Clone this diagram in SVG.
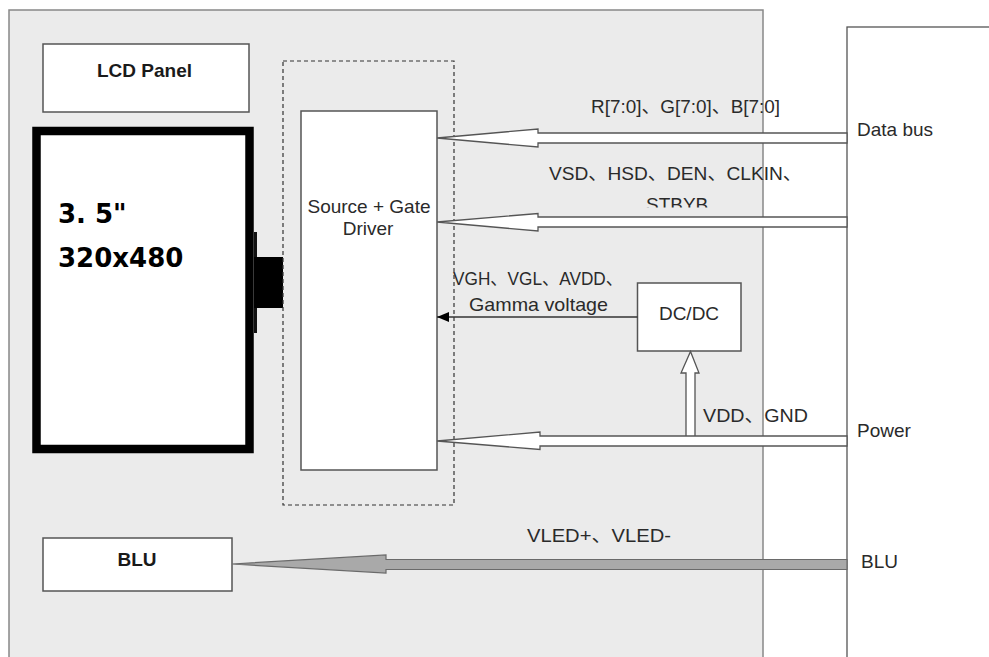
<svg xmlns="http://www.w3.org/2000/svg" width="989" height="657" viewBox="0 0 989 657">
<defs>
<style>
.t{font-family:"Liberation Sans","Noto Sans CJK SC",sans-serif;font-size:19px;fill:#2a2a2a}
.b{font-weight:bold;fill:#1a1a1a}
.big{font-family:"DejaVu Sans",sans-serif;font-weight:bold;font-size:26px;fill:#000}
.box{fill:#fff;stroke:#555;stroke-width:1.5}
.hollow{fill:#fff;stroke:#555;stroke-width:1.3;stroke-linejoin:miter}
</style>
<marker id="tri" markerWidth="12" markerHeight="10" refX="12" refY="5" orient="auto" markerUnits="userSpaceOnUse">
<path d="M0,0 L12,5 L0,10 Z" fill="#000"/>
</marker>
<clipPath id="stbclip"><rect x="600" y="190" width="200" height="17.5"/></clipPath>
</defs>
<rect width="989" height="657" fill="#fff"/>
<g id="main-board">
<rect x="9" y="10" width="754" height="660" fill="#ebebeb" stroke="#888" stroke-width="1.5"/>
</g>
<g id="host">
<rect x="847" y="27" width="160" height="650" fill="#fff" stroke="#555" stroke-width="1.3"/>
</g>
<g id="lcd-panel-label">
<rect class="box" x="43" y="44" width="206" height="68"/>
<text class="t b" x="97" y="77">LCD Panel</text>
</g>
<g id="lcd-glass">
<rect x="36.5" y="131" width="213" height="318" fill="#fff" stroke="#000" stroke-width="8.5"/>
<rect x="254" y="232" width="3" height="101" fill="#111"/>
<rect x="254" y="257" width="29" height="51" fill="#000"/>
<text class="big" x="58" y="223">3. 5"</text>
<text class="big" x="58" y="267">320x480</text>
</g>
<g id="driver-area">
<rect x="283" y="61" width="171" height="444" fill="none" stroke="#333" stroke-width="1.2" stroke-dasharray="4,3"/>
</g>
<g id="driver">
<rect class="box" x="301" y="111" width="136" height="359"/>
<text class="t" x="369" y="213" text-anchor="middle">Source + Gate</text>
<text class="t" x="368" y="235" text-anchor="middle">Driver</text>
</g>
<g id="dcdc">
<rect class="box" x="637.5" y="283" width="103.5" height="68"/>
<text class="t" x="689" y="320" text-anchor="middle" font-size="19.5">DC/DC</text>
</g>
<g id="blu">
<rect class="box" x="43" y="538" width="189" height="53"/>
<text class="t b" x="137" y="566" text-anchor="middle">BLU</text>
</g>
<g id="connectors">
<polygon class="hollow" points="437,138 538,129 538,133 847,133 847,143 538,143 538,147"/>
<polygon class="hollow" points="437,222 538,213.5 538,217 847,217 847,227 538,227 538,231"/>
<polygon class="hollow" points="686,438 686,373 681,373 690.5,351.5 699,373 695,373 695,438"/>
<polygon class="hollow" points="437,441 540,432 540,436 847,436 847,446 540,446 540,449.5"/>
<line x1="637.5" y1="317" x2="437" y2="317" stroke="#333" stroke-width="1.5" marker-end="url(#tri)"/>
<polygon points="232,564 386,555 386,559.5 847,559.5 847,569.5 386,569.5 386,573" fill="#a9a9a9" stroke="#6a6a6a" stroke-width="1.2"/>
</g>
<g id="labels">
<text class="t" x="591" y="113" textLength="189" lengthAdjust="spacingAndGlyphs">R[7:0]、G[7:0]、B[7:0]</text>
<text class="t" x="549" y="180" textLength="253" lengthAdjust="spacingAndGlyphs">VSD、HSD、DEN、CLKIN、</text>
<text class="t" x="646" y="211" clip-path="url(#stbclip)">STBYB</text>
<text class="t" x="453" y="285" textLength="170" lengthAdjust="spacingAndGlyphs">VGH、VGL、AVDD、</text>
<text class="t" x="469" y="311" textLength="139" lengthAdjust="spacingAndGlyphs">Gamma voltage</text>
<text class="t" x="703" y="422" textLength="105" lengthAdjust="spacingAndGlyphs">VDD、GND</text>
<text class="t" x="527" y="542" textLength="144" lengthAdjust="spacingAndGlyphs">VLED+、VLED-</text>
<text class="t" x="857" y="136">Data bus</text>
<text class="t" x="857" y="437">Power</text>
<text class="t" x="861" y="568">BLU</text>
</g>
</svg>
